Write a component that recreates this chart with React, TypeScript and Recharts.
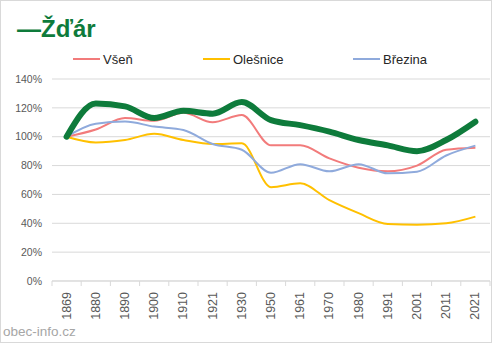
import { LineChart, Line, XAxis, YAxis, CartesianGrid } from 'recharts';

const years = ['1869', '1880', '1890', '1900', '1910', '1921', '1930', '1950', '1961', '1970', '1980', '1991', '2001', '2011', '2021'];

// population relative to 1869 (%)
const zdar = [100, 123, 121, 113, 118, 116, 124, 111.5, 108, 103.5, 97.7, 94, 90, 97.7, 110.4];
const vsen = [100, 105, 113, 111, 116.6, 110, 115, 94, 94, 85, 78.5, 76, 80, 91, 92.4];
const olesnice = [100, 96, 97.7, 102, 97.7, 95, 95.4, 65, 67.7, 56, 47, 39.5, 39, 40, 44.6];
const brezina = [100, 109, 110.5, 107, 104.6, 95, 91, 75, 81, 76, 81, 74.6, 75.7, 87, 93.8];

const yTicks = [0, 20, 40, 60, 80, 100, 120, 140];

const series = [
  { key: 'vsen', name: 'Všeň', color: '#F27B7B', values: vsen },
  { key: 'olesnice', name: 'Olešnice', color: '#FFC000', values: olesnice },
  { key: 'brezina', name: 'Březina', color: '#8FAADC', values: brezina },
];

const data = years.map((year, i) => ({
  year,
  zdar: zdar[i],
  vsen: vsen[i],
  olesnice: olesnice[i],
  brezina: brezina[i],
}));

const W = 492;
const H = 343;
const MARGIN = { top: 79, right: 2, left: 0, bottom: 0 };
const Y_WIDTH = 52;
const BAND = (W - MARGIN.left - MARGIN.right - Y_WIDTH) / years.length;
const FONT = '"Liberation Sans", Arial, sans-serif';

const XTick = ({ x, y, payload, index }: any) => {
  const ty = y + 11;
  return (
    <g>
      <line x1={x - BAND / 2} x2={x - BAND / 2} y1={y} y2={y + 5} stroke="#d9d9d9" />
      {index === years.length - 1 && (
        <line x1={x + BAND / 2} x2={x + BAND / 2} y1={y} y2={y + 5} stroke="#d9d9d9" />
      )}
      <text
        x={x}
        y={ty}
        transform={`rotate(-90, ${x}, ${ty})`}
        textAnchor="end"
        dominantBaseline="central"
        fontSize={12.5}
        fontFamily={FONT}
        fill="#595959"
      >
        {payload.value}
      </text>
    </g>
  );
};

export default function App() {
  return (
    <div style={{ position: 'absolute', left: 0, top: 0, width: W, height: H, background: '#fff', fontFamily: FONT }}>
      <LineChart width={W} height={H} data={data} margin={MARGIN}>
        <CartesianGrid vertical={false} stroke="#d9d9d9" />
        <XAxis
          dataKey="year"
          scale="band"
          interval={0}
          height={62}
          tickSize={0}
          tickMargin={0}
          axisLine={{ stroke: '#d9d9d9' }}
          tick={<XTick />}
        />
        <YAxis
          width={Y_WIDTH}
          domain={[0, 140]}
          ticks={yTicks}
          axisLine={false}
          tickLine={false}
          tickMargin={4}
          tick={{ fill: '#595959', fontSize: 10.5, fontFamily: FONT }}
          tickFormatter={(v) => `${v}%`}
        />
        {series.map((s) => (
          <Line
            key={s.key}
            dataKey={s.key}
            type="monotone"
            stroke={s.color}
            strokeWidth={2}
            dot={false}
            isAnimationActive={false}
          />
        ))}
        <Line
          dataKey="zdar"
          type="monotone"
          stroke="#0E7B3B"
          strokeWidth={6}
          strokeLinecap="round"
          dot={false}
          isAnimationActive={false}
        />
      </LineChart>

      <div
        style={{
          position: 'absolute', left: 17, top: 15, fontSize: 24, lineHeight: '28px',
          fontWeight: 'bold', color: '#0E7B3B', whiteSpace: 'nowrap',
        }}
      >
        —Žďár
      </div>

      {series.map((s, i) => (
        <div
          key={s.key}
          style={{
            position: 'absolute', left: [73, 203, 353][i], top: 50, height: 18,
            display: 'flex', alignItems: 'center', fontSize: 13, color: '#262626', whiteSpace: 'nowrap',
          }}
        >
          <span style={{ display: 'inline-block', width: 27, height: 2, background: s.color, marginRight: 3 }} />
          {s.name}
        </div>
      ))}

      <div style={{ position: 'absolute', left: 3, top: 324, fontSize: 13.5, color: '#a6a6a6', whiteSpace: 'nowrap' }}>
        obec-info.cz
      </div>

      <div
        style={{
          position: 'absolute', left: 0, top: 0, width: W, height: H,
          boxSizing: 'border-box', border: '1px solid #d9d9d9', pointerEvents: 'none',
        }}
      />
    </div>
  );
}
